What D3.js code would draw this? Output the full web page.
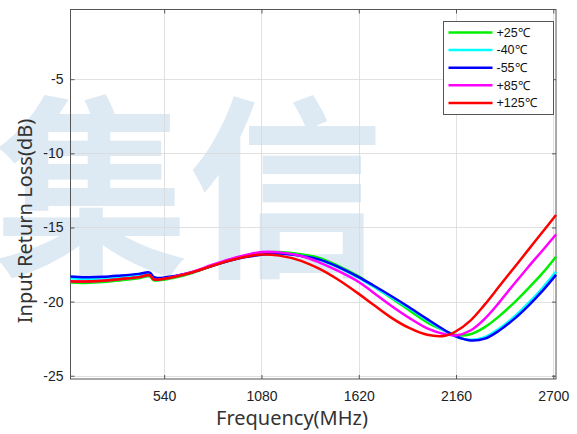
<!DOCTYPE html>
<html>
<head>
<meta charset="utf-8">
<script src="https://cdn.jsdelivr.net/npm/d3@7"></script>
<style>
  body { margin: 0; background: #fff; }
  svg { display: block; }
</style>
</head>
<body>
<div id="chart"></div>
<script>
// frequency points (MHz)
const freqs = [20, 100, 200, 300, 400, 460, 480, 500, 540, 600, 700, 800, 900, 1000, 1080, 1180, 1300, 1400, 1500, 1620, 1700, 1800, 1900, 2000, 2100, 2160, 2240, 2320, 2400, 2480, 2560, 2640, 2715];

// return loss (dB) per temperature
const rl25 = [-18.72, -18.74, -18.68, -18.56, -18.42, -18.30, -18.55, -18.58, -18.52, -18.38, -18.05, -17.62, -17.20, -16.88, -16.70, -16.66, -16.80, -17.05, -17.55, -18.30, -18.95, -19.75, -20.58, -21.40, -21.98, -22.25, -22.20, -21.72, -20.98, -20.10, -19.12, -18.08, -16.97];
const rlM40 = [-18.42, -18.47, -18.44, -18.35, -18.23, -18.12, -18.40, -18.45, -18.42, -18.30, -18.02, -17.62, -17.24, -16.95, -16.80, -16.74, -16.90, -17.18, -17.65, -18.40, -18.98, -19.70, -20.45, -21.25, -22.00, -22.38, -22.58, -22.40, -21.82, -21.05, -20.12, -19.08, -17.98];
const rlM55 = [-18.30, -18.35, -18.33, -18.24, -18.13, -18.04, -18.33, -18.40, -18.38, -18.28, -18.00, -17.62, -17.25, -16.98, -16.84, -16.76, -16.92, -17.15, -17.62, -18.35, -18.90, -19.62, -20.38, -21.18, -21.95, -22.35, -22.62, -22.50, -21.95, -21.20, -20.30, -19.28, -18.20];
const rl85 = [-18.62, -18.65, -18.60, -18.48, -18.35, -18.22, -18.48, -18.52, -18.46, -18.30, -17.98, -17.55, -17.15, -16.84, -16.66, -16.68, -16.92, -17.35, -17.90, -18.68, -19.38, -20.28, -21.10, -21.80, -22.20, -22.28, -21.95, -21.15, -20.05, -18.85, -17.68, -16.55, -15.47];
const rl125 = [-18.62, -18.65, -18.60, -18.48, -18.35, -18.22, -18.48, -18.52, -18.46, -18.32, -18.02, -17.62, -17.25, -16.96, -16.82, -16.90, -17.25, -17.78, -18.48, -19.48, -20.20, -21.08, -21.78, -22.24, -22.30, -22.00, -21.28, -20.19, -18.97, -17.75, -16.53, -15.31, -14.16];

const seriesNames = ["+25℃", "-40℃", "-55℃", "+85℃", "+125℃"];
const seriesColors = ["#00f000", "#00ffff", "#0000ff", "#ff00ff", "#ff0000"];
const seriesValues = [rl25, rlM40, rlM55, rl85, rl125];

const xTicks = [540, 1080, 1620, 2160, 2700];
const yTicks = [-5, -10, -15, -20, -25];

const width = 577, height = 434;
const margin = {left: 70.5, top: 9.5, right: 21, bottom: 55};

const svg = d3.select("#chart").append("svg")
    .attr("width", width)
    .attr("height", height);

// watermark
const wm = svg.append("g")
    .attr("font-family", "'Noto Sans CJK SC', sans-serif")
    .attr("font-weight", 700)
    .attr("font-size", 195)
    .attr("fill", "#dde9f3");
wm.append("text").attr("x", -6).attr("y", 262).text("集");
wm.append("text").attr("x", 188).attr("y", 262).text("信");

const x = d3.scaleLinear()
    .domain([20, 2715])
    .range([margin.left, width - margin.right]);
const y = d3.scaleLinear()
    .domain([-25.22, -0.3])
    .range([height - margin.bottom, margin.top]);

const x0 = margin.left, x1 = width - margin.right;
const y0 = height - margin.bottom, y1 = margin.top;

// grid
const grid = svg.append("g").attr("stroke", "#d9d9d9").attr("stroke-opacity", 0.8).attr("stroke-width", 1);
grid.selectAll("line.gx").data(xTicks).join("line")
    .attr("x1", d => Math.round(x(d)) + 0.5).attr("x2", d => Math.round(x(d)) + 0.5)
    .attr("y1", y1).attr("y2", y0);
grid.selectAll("line.gy").data(yTicks).join("line")
    .attr("y1", d => Math.round(y(d)) + 0.5).attr("y2", d => Math.round(y(d)) + 0.5)
    .attr("x1", x0).attr("x2", x1);

// axes
const axisFont = "'Liberation Sans', Arial, sans-serif";
const xAxis = svg.append("g")
    .attr("transform", `translate(0,${y0})`)
    .call(d3.axisBottom(x).tickValues(xTicks).tickSizeInner(-4).tickSizeOuter(0).tickPadding(12).tickFormat(d => String(d)));
const xAxisTop = svg.append("g")
    .attr("transform", `translate(0,${y1})`)
    .call(d3.axisTop(x).tickValues(xTicks).tickSizeInner(-4).tickSizeOuter(0).tickFormat(""));
const yAxis = svg.append("g")
    .attr("transform", `translate(${x0},0)`)
    .call(d3.axisLeft(y).tickValues(yTicks).tickSizeInner(-4).tickSizeOuter(0).tickPadding(7).tickFormat(d => String(d)));
const yAxisRight = svg.append("g")
    .attr("transform", `translate(${x1},0)`)
    .call(d3.axisRight(y).tickValues(yTicks).tickSizeInner(-4).tickSizeOuter(0).tickFormat(""));

[xAxis, xAxisTop, yAxis, yAxisRight].forEach(a => {
    a.select(".domain").remove();
    a.selectAll(".tick line").attr("stroke", "#555");
    a.selectAll("text")
        .attr("font-family", axisFont)
        .attr("font-size", 14)
        .attr("fill", "#222");
});

// frame
svg.append("rect")
    .attr("x", x0).attr("y", y1)
    .attr("width", x1 - x0).attr("height", y0 - y1)
    .attr("fill", "none")
    .attr("stroke", "#555")
    .attr("stroke-width", 1);

// curves
const line = d3.line()
    .x((d, i) => x(freqs[i]))
    .y(d => y(d))
    .curve(d3.curveCatmullRom.alpha(0.5));

svg.append("g")
    .selectAll("path")
    .data(seriesValues)
    .join("path")
    .attr("d", d => line(d))
    .attr("fill", "none")
    .attr("stroke", (d, i) => seriesColors[i])
    .attr("stroke-width", 2.5)
    .attr("stroke-linejoin", "round");

// legend
const legend = svg.append("g").attr("transform", "translate(443.5,21.5)");
legend.append("rect")
    .attr("width", 110).attr("height", 93)
    .attr("fill", "#fff")
    .attr("stroke", "#555");
const item = legend.selectAll("g.item")
    .data(seriesNames)
    .join("g")
    .attr("transform", (d, i) => `translate(0,${11 + i * 17.6})`);
item.append("line")
    .attr("x1", 5).attr("x2", 49)
    .attr("stroke", (d, i) => seriesColors[i])
    .attr("stroke-width", 2.5);
item.append("text")
    .attr("x", 53).attr("dy", "0.35em")
    .attr("font-family", axisFont)
    .attr("font-size", 12.5)
    .attr("fill", "#111")
    .text(d => d);

// axis titles
svg.append("text")
    .attr("x", 292).attr("y", 425)
    .attr("text-anchor", "middle")
    .attr("font-family", "'Noto Sans', sans-serif")
    .attr("font-size", 20)
    .attr("fill", "#333")
    .text("Frequency(MHz)");
svg.append("text")
    .attr("transform", "translate(32,221) rotate(-90)")
    .attr("text-anchor", "middle")
    .attr("font-family", "'Noto Sans', sans-serif")
    .attr("font-size", 20)
    .attr("fill", "#333")
    .text("Input Return Loss(dB)");
</script>
</body>
</html>
